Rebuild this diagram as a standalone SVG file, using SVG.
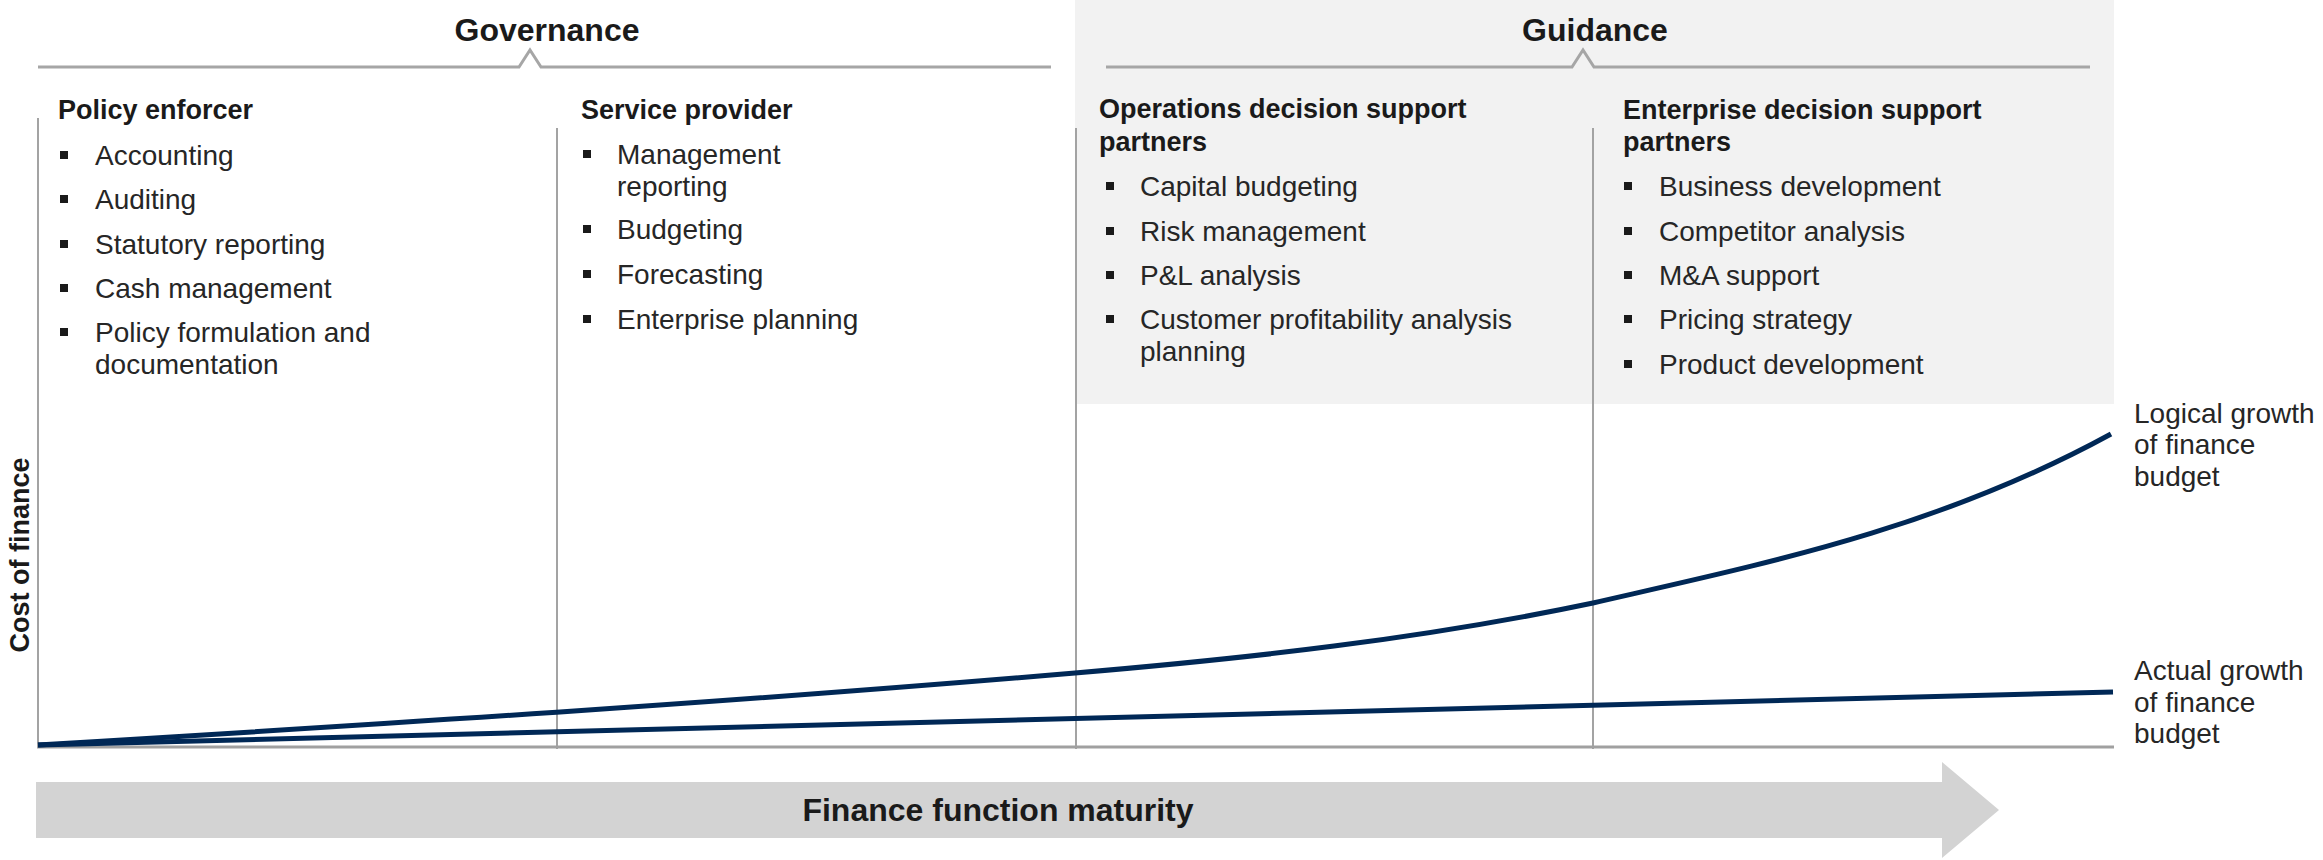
<svg xmlns="http://www.w3.org/2000/svg" width="2323" height="860" viewBox="0 0 2323 860">
<defs>
<style>
text{font-family:"Liberation Sans",Arial,sans-serif;}
.hd{font-size:32px;font-weight:bold;fill:#1a1a1a;}
.tt{font-size:27px;font-weight:bold;fill:#1a1a1a;}
.it{font-size:28px;fill:#262626;}
.vl{stroke:#a3a3a3;stroke-width:2;fill:none;}
.br{stroke:#a6a6a6;stroke-width:3;fill:none;}
.bu{fill:#1a1a1a;}
.cv{stroke:#002856;stroke-width:5;fill:none;}
</style>
</defs>
<rect width="2323" height="860" fill="#ffffff"/>
<rect id="guidance-bg" x="1075" y="0" width="1039" height="404" fill="#f2f2f2"/>

<g id="governance">
<text class="hd" x="547" y="41" text-anchor="middle">Governance</text>
<polyline class="br" points="38,67 519,67 530,50 541,67 1051,67"/>
</g>
<g id="guidance">
<text class="hd" x="1595" y="41" text-anchor="middle">Guidance</text>
<polyline class="br" points="1106,67 1572,67 1583,50 1594,67 2090,67"/>
</g>

<g id="axes">
<line class="vl" x1="38" y1="118" x2="38" y2="748"/>
<line class="vl" x1="557" y1="128" x2="557" y2="749"/>
<line class="vl" x1="1076" y1="128" x2="1076" y2="749"/>
<line class="vl" x1="1593" y1="128" x2="1593" y2="749"/>
<line x1="37" y1="747" x2="2114" y2="747" stroke="#a0a0a0" stroke-width="3"/>
<text class="tt" transform="translate(29,555) rotate(-90)" text-anchor="middle">Cost of finance</text>
</g>

<g id="policy-enforcer">
<text class="tt" x="58" y="119">Policy enforcer</text>
<rect class="bu" x="60" y="151" width="8" height="8"/>
<text class="it" x="95" y="165">Accounting</text>
<rect class="bu" x="60" y="195" width="8" height="8"/>
<text class="it" x="95" y="209">Auditing</text>
<rect class="bu" x="60" y="240" width="8" height="8"/>
<text class="it" x="95" y="254">Statutory reporting</text>
<rect class="bu" x="60" y="284" width="8" height="8"/>
<text class="it" x="95" y="298">Cash management</text>
<rect class="bu" x="60" y="328" width="8" height="8"/>
<text class="it" x="95" y="342">Policy formulation and</text>
<text class="it" x="95" y="374">documentation</text>
</g>

<g id="service-provider">
<text class="tt" x="581" y="119">Service provider</text>
<rect class="bu" x="583" y="150" width="8" height="8"/>
<text class="it" x="617" y="164">Management</text>
<text class="it" x="617" y="196">reporting</text>
<rect class="bu" x="583" y="225" width="8" height="8"/>
<text class="it" x="617" y="239">Budgeting</text>
<rect class="bu" x="583" y="270" width="8" height="8"/>
<text class="it" x="617" y="284">Forecasting</text>
<rect class="bu" x="583" y="315" width="8" height="8"/>
<text class="it" x="617" y="329">Enterprise planning</text>
</g>

<g id="operations-decision-support">
<text class="tt" x="1099" y="118">Operations decision support</text>
<text class="tt" x="1099" y="151">partners</text>
<rect class="bu" x="1106" y="182" width="8" height="8"/>
<text class="it" x="1140" y="196">Capital budgeting</text>
<rect class="bu" x="1106" y="227" width="8" height="8"/>
<text class="it" x="1140" y="241">Risk management</text>
<rect class="bu" x="1106" y="271" width="8" height="8"/>
<text class="it" x="1140" y="285">P&amp;L analysis</text>
<rect class="bu" x="1106" y="315" width="8" height="8"/>
<text class="it" x="1140" y="329">Customer profitability analysis</text>
<text class="it" x="1140" y="361">planning</text>
</g>

<g id="enterprise-decision-support">
<text class="tt" x="1623" y="119">Enterprise decision support</text>
<text class="tt" x="1623" y="151">partners</text>
<rect class="bu" x="1624" y="182" width="8" height="8"/>
<text class="it" x="1659" y="196">Business development</text>
<rect class="bu" x="1624" y="227" width="8" height="8"/>
<text class="it" x="1659" y="241">Competitor analysis</text>
<rect class="bu" x="1624" y="271" width="8" height="8"/>
<text class="it" x="1659" y="285">M&amp;A support</text>
<rect class="bu" x="1624" y="315" width="8" height="8"/>
<text class="it" x="1659" y="329">Pricing strategy</text>
<rect class="bu" x="1624" y="360" width="8" height="8"/>
<text class="it" x="1659" y="374">Product development</text>
</g>

<g id="connectors">
<path id="logical-curve" class="cv" d="M38,745 C384,724.2 729,702.4 1075,673 C1247.7,658.3 1420.3,639.3 1593,603 C1765.3,563.4 1937.7,528.8 2111,434"/>
<path id="actual-line" class="cv" d="M38,745 L2113,692"/>
</g>

<g id="logical-label">
<text class="it" x="2134" y="423">Logical growth</text>
<text class="it" x="2134" y="454">of finance</text>
<text class="it" x="2134" y="486">budget</text>
</g>
<g id="actual-label">
<text class="it" x="2134" y="680">Actual growth</text>
<text class="it" x="2134" y="712">of finance</text>
<text class="it" x="2134" y="743">budget</text>
</g>

<g id="maturity-arrow">
<polygon points="36,782 1942,782 1942,762 1999,810 1942,858 1942,838 36,838" fill="#d3d3d3"/>
<text class="hd" x="998" y="821" text-anchor="middle">Finance function maturity</text>
</g>
</svg>
